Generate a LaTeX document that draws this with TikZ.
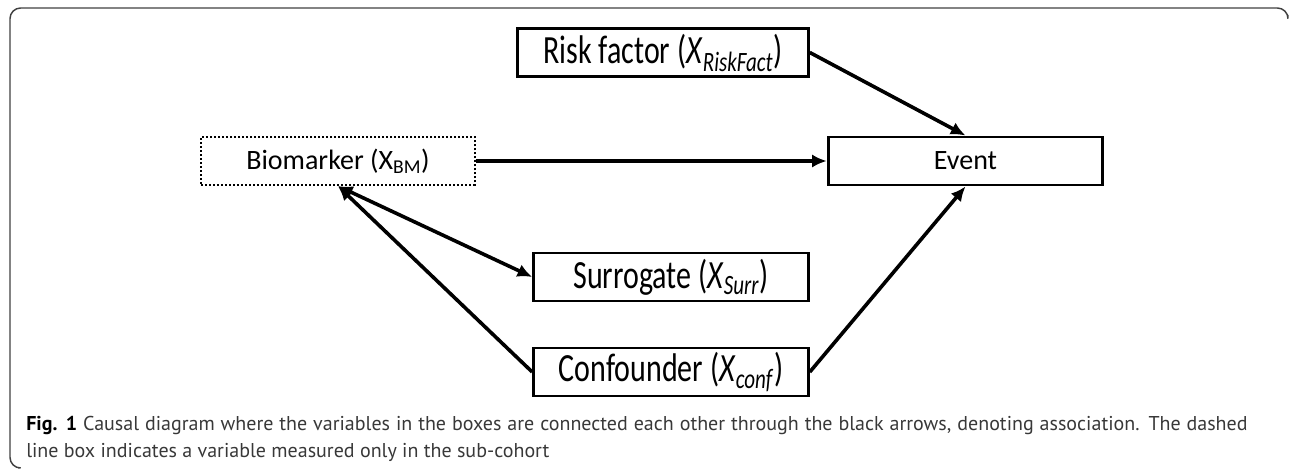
\documentclass[tikz,border=0pt]{standalone}
\usepackage{fontspec}
\setmainfont{Carlito}
\newfontfamily\tallfont{Carlito}[FakeStretch=0.75]
\newfontfamily\capfont{PT Sans}
\usetikzlibrary{arrows.meta}

\begin{document}
\begin{tikzpicture}[x=0.75pt, y=-0.75pt,
  var/.style={draw, line width=2.2pt, minimum height=36pt, inner sep=0pt, font=\fontsize{21}{23}\selectfont},
  bigvar/.style={var, font=\tallfont\fontsize{30}{32}\selectfont},
  subvar/.style={var, line width=1.6pt, dash pattern=on 1.5pt off 1.5pt},
  arr/.style={line width=2.7pt, -{Latex[length=11pt,width=10pt]}},
  captxt/.style={anchor=base west, inner sep=0pt, text=black!78, font=\capfont\fontsize{15}{18}\selectfont}]

\useasboundingbox (0,0) rectangle (1290,470);

% frame of the figure
\draw[black!75, line width=1.1pt, rounded corners=8pt] (18,468) -- (10,468) -- (10,8) -- (1288,8) -- (1288,15);

% boxes
\node[bigvar, minimum width=218pt] (risk) at (663,52.5) {Risk factor (\textit{X}\textsubscript{\textit{RiskFact}})};
\node[subvar, minimum width=205pt] (bio) at (338,161) {Biomarker (X\textsubscript{BM})};
\node[var, minimum width=206pt] (event) at (965.5,161) {Event};
\node[bigvar, minimum width=206pt] (surr) at (671,277) {Surrogate (\textit{X}\textsubscript{\textit{Surr}})};
\node[bigvar, minimum width=206pt] (conf) at (671,372) {Confounder (\textit{X}\textsubscript{\textit{conf}})};

% associations
\foreach \from/\to in {risk.east/event.north, bio.east/event.west, conf.east/event.south, conf.west/bio.south}
  \draw[arr] (\from) -- (\to);
\draw[arr, {Latex[length=11pt,width=10pt]}-{Latex[length=11pt,width=10pt]}] (bio.south) -- (surr.west);

% caption
\node[captxt] (cap1) at (26,431) {\makebox[916pt][s]{\textbf{\color{black}Fig. 1} Causal diagram where the variables in the boxes are connected each other through the black arrows, denoting association. The dashed}};
\node[captxt] (cap2) at (26,458) {line box indicates a variable measured only in the sub-cohort};
\end{tikzpicture}
\end{document}
